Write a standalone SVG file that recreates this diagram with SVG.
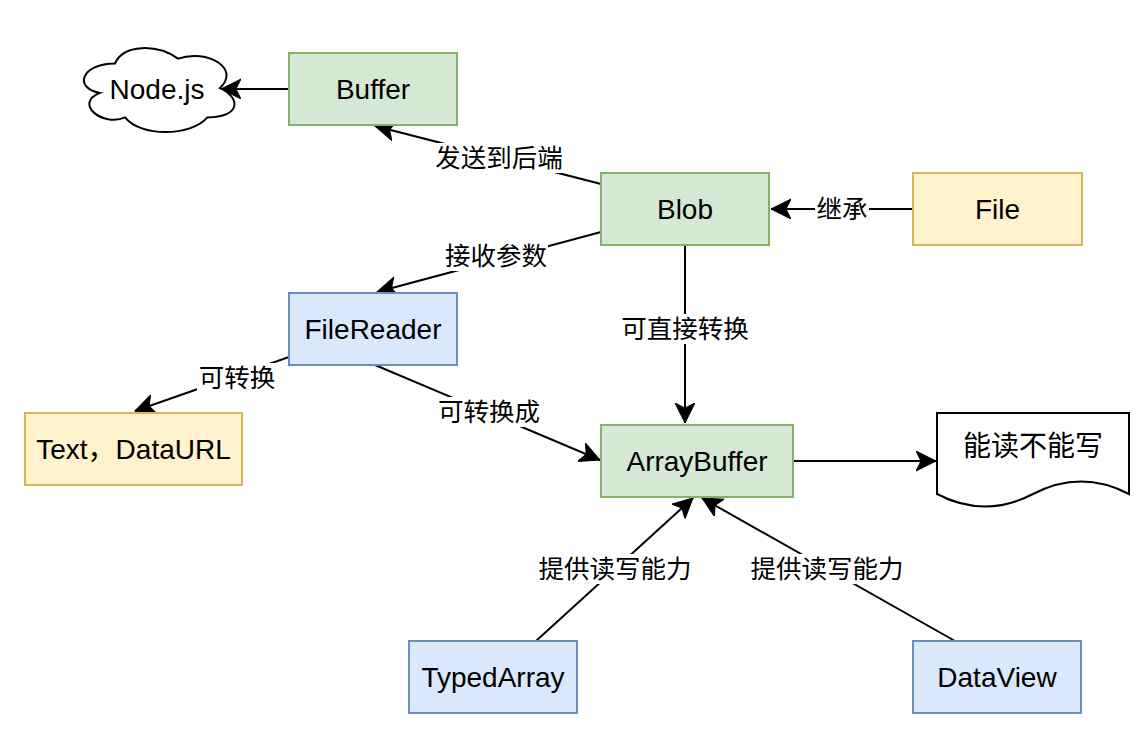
<svg xmlns="http://www.w3.org/2000/svg" width="1146" height="753" viewBox="0 0 1146 753">
<style>
.green{fill:#d5e8d4;stroke:#82b366;stroke-width:2}
.yellow{fill:#fff2cc;stroke:#d6b656;stroke-width:2}
.blue{fill:#dae8fc;stroke:#6c8ebf;stroke-width:2}
.plain{fill:#ffffff;stroke:#000000;stroke-width:2}
.nt{font-family:"Liberation Sans","Noto Sans CJK SC",Arial,sans-serif;font-size:28px;fill:#000;text-anchor:middle}
.lt{font-family:"Liberation Sans","Noto Sans CJK SC",sans-serif;font-size:25.5px;fill:#000;text-anchor:middle}
.edge{fill:none;stroke:#000;stroke-width:2;marker-end:url(#arr)}
.lbg{fill:#ffffff;stroke:none}
</style>
<defs>
<marker id="arr" markerUnits="userSpaceOnUse" markerWidth="22" markerHeight="22" refX="20" refY="10" orient="auto" viewBox="0 0 22 22">
<path d="M0,0 L20,10 L0,20 L5,10 Z" fill="#000" stroke="#000" stroke-width="1"/>
</marker>
</defs>
<rect width="1146" height="753" fill="#ffffff"/>

<g id="connectors">
<line class="edge" x1="289" y1="89" x2="221" y2="89"/>
<line class="edge" x1="601" y1="184" x2="375" y2="126"/>
<line class="edge" x1="601" y1="232" x2="377" y2="292"/>
<line class="edge" x1="289" y1="357" x2="135" y2="411"/>
<line class="edge" x1="375" y1="365" x2="600" y2="460"/>
<line class="edge" x1="685" y1="245" x2="685" y2="423"/>
<line class="edge" x1="536" y1="641" x2="693" y2="498"/>
<line class="edge" x1="955" y1="641" x2="702" y2="498"/>
<line class="edge" x1="913" y1="209" x2="771" y2="209"/>
<line class="edge" x1="793" y1="461" x2="936" y2="461"/>

<rect class="lbg" x="433" y="143" width="132" height="30"/>
<text class="lt" x="499" y="167">发送到后端</text>
<rect class="lbg" x="444" y="241" width="104" height="30"/>
<text class="lt" x="496" y="265">接收参数</text>
<rect class="lbg" x="197" y="363" width="80" height="30"/>
<text class="lt" x="237" y="387">可转换</text>
<rect class="lbg" x="437" y="397" width="104" height="30"/>
<text class="lt" x="489" y="421">可转换成</text>
<rect class="lbg" x="619" y="314" width="132" height="30"/>
<text class="lt" x="685" y="338">可直接转换</text>
<rect class="lbg" x="536" y="554" width="158" height="30"/>
<text class="lt" x="615" y="578">提供读写能力</text>
<rect class="lbg" x="748" y="554" width="158" height="30"/>
<text class="lt" x="827" y="578">提供读写能力</text>
<rect class="lbg" x="815" y="194" width="54" height="30"/>
<text class="lt" x="842" y="218">继承</text>
</g>

<g id="nodejs">
<path class="plain" d="M115,63.5 C81.4,63.5 73,88 99.9,92.9 C73,103.7 103.2,127.2 125.1,117.4 C140.2,137 190.6,137 207.4,117.4 C241,117.4 241,97.8 220,88 C241,68.4 207.4,48.8 178,58.6 C157,43.9 123.4,43.9 115,63.5 Z"/>
<text class="nt" x="157" y="99">Node.js</text>
</g>
<g id="buffer">
<rect class="green" x="289" y="53" width="168" height="72"/>
<text class="nt" x="373" y="99">Buffer</text>
</g>
<g id="blob">
<rect class="green" x="601" y="173" width="168" height="72"/>
<text class="nt" x="685" y="219">Blob</text>
</g>
<g id="file">
<rect class="yellow" x="913" y="173" width="169" height="72"/>
<text class="nt" x="997.5" y="219">File</text>
</g>
<g id="filereader">
<rect class="blue" x="289" y="293" width="168" height="72"/>
<text class="nt" x="373" y="339">FileReader</text>
</g>
<g id="textdataurl">
<rect class="yellow" x="25" y="413" width="217" height="72"/>
<text class="nt" x="133.5" y="459">Text，DataURL</text>
</g>
<g id="arraybuffer">
<rect class="green" x="601" y="425" width="192" height="72"/>
<text class="nt" x="697" y="471">ArrayBuffer</text>
</g>
<g id="readonly">
<path class="plain" d="M937,413 H1129 V494 Q1081,469 1033,494 Q985,519 937,494 Z"/>
<text class="nt" x="1033" y="456">能读不能写</text>
</g>
<g id="typedarray">
<rect class="blue" x="409" y="641" width="168" height="72"/>
<text class="nt" x="493" y="687">TypedArray</text>
</g>
<g id="dataview">
<rect class="blue" x="913" y="641" width="168" height="72"/>
<text class="nt" x="997" y="687">DataView</text>
</g>
</svg>
